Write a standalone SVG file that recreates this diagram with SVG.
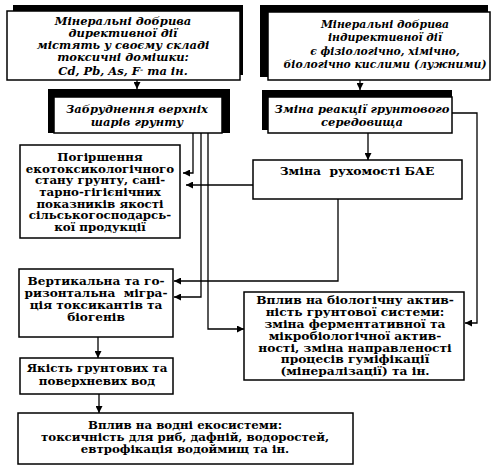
<svg xmlns="http://www.w3.org/2000/svg" width="500" height="469" viewBox="0 0 500 469">
<defs>
<marker id="ar" viewBox="0 0 10 10" refX="10" refY="5" markerWidth="7" markerHeight="7" markerUnits="userSpaceOnUse" orient="auto"><path d="M0,0 L10,5 L0,10 z" fill="#000"/></marker>
</defs>
<style>
.bx{fill:#fff;stroke:#000;stroke-width:1.5}
.sh{fill:#000}
.it{font-family:"DejaVu Serif","Liberation Serif",serif;font-style:italic;font-weight:bold;font-size:11.5px;text-anchor:middle;fill:#000}
.bd{font-family:"DejaVu Serif","Liberation Serif",serif;font-weight:bold;font-size:11px;text-anchor:middle;fill:#000}
.sm{font-size:10.2px}
.cn{fill:none;stroke:#000;stroke-width:1.3}
</style>
<rect width="500" height="469" fill="#fff"/>
<g id="n1">
<rect class="sh" x="13" y="5" width="230" height="70"/>
<rect class="bx" x="7" y="11" width="233" height="69"/>
<g transform="translate(123,0) scale(1.13,1)">
<text class="it sm" x="0" y="25.5">Мінеральні добрива</text>
<text class="it sm" x="0" y="37.5">директивної дії</text>
<text class="it sm" x="0" y="49.5">містять у своєму складі</text>
<text class="it sm" x="0" y="61.5">токсичні домішки:</text>
<text class="it sm" x="0" y="75.5">Cd, Pb, As, F<tspan dy="-3.5" font-size="7">-</tspan><tspan dy="3.5"> та ін.</tspan></text>
</g>
</g>
<g id="n2">
<rect class="sh" x="48" y="89" width="182" height="44"/>
<rect class="bx" x="54" y="97" width="168" height="36"/>
<text class="it" x="137" y="113">Забруднення верхніх</text>
<text class="it" x="137" y="126">шарів грунту</text>
</g>
<g id="n3">
<rect class="sh" x="260" y="5" width="228" height="72"/>
<rect class="bx" x="268" y="12" width="222" height="68"/>
<g transform="translate(385,0) scale(0.94,1)">
<text class="it" x="0" y="28">Мінеральні добрива</text>
<text class="it" x="0" y="41">індирективної дії</text>
<text class="it" x="0" y="55">є фізіологічно, хімічно,</text>
<text class="it" x="0" y="68">біологічно кислими (лужними)</text>
</g>
</g>
<g id="n4">
<rect class="sh" x="262" y="90" width="190" height="40"/>
<rect class="bx" x="268" y="97" width="184" height="36"/>
<text class="it" x="362" y="113">Зміна реакції грунтового</text>
<text class="it" x="362" y="126">середовища</text>
</g>
<g id="n5">
<rect class="bx" x="20" y="145" width="160" height="93"/>
<g transform="translate(100,0) scale(1.16,1)">
<text class="bd sm" x="0" y="161">Погіршення</text>
<text class="bd sm" x="0" y="172.7">екотоксикологічного</text>
<text class="bd sm" x="0" y="184.4">стану грунту, сані-</text>
<text class="bd sm" x="0" y="196.1">тарно-гігієнічних</text>
<text class="bd sm" x="0" y="207.8">показників якості</text>
<text class="bd sm" x="0" y="219.5">сільськогосподарсь-</text>
<text class="bd sm" x="0" y="231.2">кої продукції</text>
</g>
</g>
<g id="n6">
<rect class="bx" x="253" y="160" width="209" height="39"/>
<g transform="translate(357,0) scale(1.12,1)">
<text class="bd" x="0" y="175" xml:space="preserve">Зміна  рухомості БАЕ</text>
</g>
</g>
<g id="n7">
<rect class="bx" x="19" y="269" width="154" height="68"/>
<g transform="translate(96,0) scale(1.1,1)">
<text class="bd" x="0" y="285">Вертикальна та го-</text>
<text class="bd" x="0" y="297" xml:space="preserve">ризонтальна  мігра-</text>
<text class="bd" x="0" y="309">ція токсикантів та</text>
<text class="bd" x="0" y="321">біогенів</text>
</g>
</g>
<g id="n8">
<rect class="bx" x="20" y="358" width="153" height="36"/>
<g transform="translate(97,0) scale(1.08,1)">
<text class="bd" x="0" y="372">Якість грунтових та</text>
<text class="bd" x="0" y="385">поверхневих вод</text>
</g>
</g>
<g id="n9">
<rect class="bx" x="244" y="292" width="220" height="88"/>
<g transform="translate(355,0) scale(1.2,1)">
<text class="bd sm" x="0" y="304.5">Вплив на біологічну актив-</text>
<text class="bd sm" x="0" y="316.3">ність грунтової системи:</text>
<text class="bd sm" x="0" y="328.1">зміна ферментативної та</text>
<text class="bd sm" x="0" y="339.9">мікробіологічної актив-</text>
<text class="bd sm" x="0" y="351.7">ності, зміна направленості</text>
<text class="bd sm" x="0" y="363.5">процесів гуміфікації</text>
<text class="bd sm" x="0" y="375.3">(мінералізації) та ін.</text>
</g>
</g>
<g id="n10">
<rect class="bx" x="18" y="413" width="335" height="51"/>
<g transform="translate(185,0) scale(1.07,1)">
<text class="bd" x="0" y="429">Вплив на водні екосистеми:</text>
<text class="bd" x="0" y="441">токсичність для риб, дафній, водоростей,</text>
<text class="bd" x="0" y="453">евтрофікація водоймищ та ін.</text>
</g>
</g>
<g id="connectors">
<path class="cn" d="M137,80 V89" marker-end="url(#ar)"/>
<path class="cn" d="M360,80 V90" marker-end="url(#ar)"/>
<path class="cn" d="M368,133 V160" marker-end="url(#ar)"/>
<path class="cn" d="M193,133 V173 H183" marker-end="url(#ar)"/>
<path class="cn" d="M201,133 V297 H174" marker-end="url(#ar)"/>
<path class="cn" d="M208,133 V329 H244" marker-end="url(#ar)"/>
<path class="cn" d="M253,185 H186" marker-end="url(#ar)"/>
<path class="cn" d="M338,199 V281 H174" marker-end="url(#ar)"/>
<path class="cn" d="M452,113 H477 V323 H465" marker-end="url(#ar)"/>
<path class="cn" d="M98,337 V358" marker-end="url(#ar)"/>
<path class="cn" d="M99,394 V413" marker-end="url(#ar)"/>
</g>
</svg>
